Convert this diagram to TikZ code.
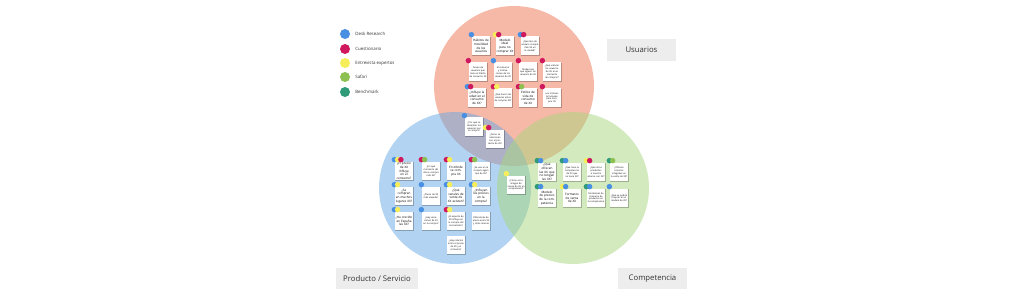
\documentclass[tikz,border=0pt]{standalone}
\usepackage{fontspec}
\setmainfont{Open Sans}
\usetikzlibrary{shadows,calc}
\definecolor{cblue}{HTML}{4A90E2}
\definecolor{cred}{HTML}{D0185E}
\definecolor{cyel}{HTML}{F5EE5A}
\definecolor{cgreen}{HTML}{8CC152}
\definecolor{cteal}{HTML}{2E9A78}
\definecolor{vred}{HTML}{EF7351}
\definecolor{vblue}{HTML}{67A9E5}
\definecolor{vgreen}{HTML}{A7D77D}
\definecolor{lblgray}{HTML}{EDEDED}
\newcommand{\stk}[5]{\node[sticky,#5] (#1) at (#2,#3) {#4};}
\newcommand{\dts}[2]{\foreach \cc [count=\ii from 0] in {#2} {\node[dot,fill=\cc] at ([xshift=\ii*0.065cm,yshift=0.03cm]#1.north west) {};}}
\begin{document}
\begin{tikzpicture}[x=0.02cm,y=-0.02cm,
  sticky/.style={fill=white, minimum width=0.37cm, minimum height=0.38cm, text width=0.34cm,
    inner sep=0.2pt, align=center, font=\fontsize{1.3}{1.6}\selectfont,
    drop shadow={shadow xshift=0.25pt, shadow yshift=-0.35pt, opacity=0.25, fill=black}},
  big/.style={font=\fontsize{1.75}{2.1}\selectfont},
  dot/.style={circle, minimum size=0.11cm, inner sep=0pt},
  ldot/.style={circle, minimum size=0.2cm, inner sep=0pt},
  ltext/.style={anchor=west, inner sep=0pt, font=\fontsize{2.5}{3}\selectfont, text=black!80},
  lab/.style={fill=lblgray, minimum height=0.44cm, inner sep=0pt, font=\fontsize{4.4}{5}\selectfont, text=black!80}]
\useasboundingbox (0,0) rectangle (1024,307);
\fill[white] (0,0) rectangle (1024,307);
% circles
\fill[vred, fill opacity=0.5] (514,86) circle[radius=1.6cm];
\fill[vblue, fill opacity=0.5] (455,188) circle[radius=1.52cm];
\fill[vgreen, fill opacity=0.5] (573,188) circle[radius=1.52cm];
% legend
\node[ldot,fill=cblue] (l1) at (345,34) {};
\node[ltext] (t1) at (355,34) {Desk Research};
\node[ldot,fill=cred] (l2) at (345,49) {};
\node[ltext] (t2) at (355,49) {Cuestionario};
\node[ldot,fill=cyel] (l3) at (345,63) {};
\node[ltext] (t3) at (355,63) {Entrevista expertos};
\node[ldot,fill=cgreen] (l4) at (345,77) {};
\node[ltext] (t4) at (355,77) {Safari};
\node[ldot,fill=cteal] (l5) at (345,92) {};
\node[ltext] (t5) at (355,92) {Benchmark};
% labels
\node[lab, minimum width=1.38cm] (usu) at (641.5,50) {Usuarios};
\node[lab, minimum width=1.64cm] (prod) at (377,278.5) {Producto / Servicio};
\node[lab, minimum width=1.38cm] (comp) at (652.5,278.5) {Competencia};
% Usuarios stickies
\stk{R1}{481}{46}{Hábitos de movilidad de los usuarios}{big}\dts{R1}{cblue}
\stk{R2}{505}{46}{Modelo ideal para no comprar XX}{big}\dts{R2}{cyel,cred}
\stk{R3}{530}{46}{¿Qué tipo de usuario compra más XX en la ciudad?}{}\dts{R3}{cblue,cred}
\stk{R4}{478}{72}{Grupo de usuarios que tiene el hábito de consumir XX}{}\dts{R4}{cred}
\stk{R5}{503}{72}{El consumo y motivaciones de los usuarios de XX}{}\dts{R5}{cblue}
\stk{R6}{528}{72}{Tendencias que siguen los usuarios de XX}{}\dts{R6}{cred}
\stk{R7}{552}{72}{¿Qué valoran los usuarios de XX en el momento de comprar?}{}\dts{R7}{cred}
\stk{R8}{477}{98}{¿Influye la edad en el consumo de XX?}{big}\dts{R8}{cblue,cred}
\stk{R9}{503}{98}{¿Qué hacen los usuarios antes de comprar XX?}{}\dts{R9}{cred,cyel}
\stk{R10}{528}{98}{Estilos de vida de consumo de XX}{big}\dts{R10}{cred,cgreen}
\stk{R11}{552}{98}{Los motivos principales para comprar XX}{}\dts{R11}{cred}
% overlap usuarios / producto
\stk{O1}{474}{127}{¿Por qué se decantan los usuarios por la compra?}{}\dts{O1}{cblue}
\stk{O2}{495}{139}{¿Cómo se relacionan con el producto de XX?}{}\dts{O2}{cyel,cred}
% Producto stickies
\stk{B1}{404}{171}{¿El precio de XX influye en el consumo?}{big}\dts{B1}{cblue,cyel,cred}
\stk{B2}{431}{171}{¿En qué momento del día se compra más XX?}{}\dts{B2}{cred,cgreen}
\stk{B3}{456}{171}{En dónde se compra XX}{big}\dts{B3}{cred,cyel}
\stk{B4}{481}{171}{¿Se usa en la compra algún tipo de XX?}{}\dts{B4}{cred,cgreen}
\stk{B5}{404}{196}{¿Se compran en muchos lugares XX?}{big}\dts{B5}{cblue,cyel}
\stk{B6}{431}{196}{¿Precio de XX más elevado?}{}\dts{B6}{cblue}
\stk{B7}{456}{196}{¿Qué canales de venta de XX existen?}{big}\dts{B7}{cblue,cyel}
\stk{B8}{481}{196}{¿Influyen los precios en la compra?}{big}\dts{B8}{cblue,cyel}
\stk{B9}{404}{221}{¿Ha crecido en España las XX?}{big}\dts{B9}{cblue,cyel}
\stk{B10}{431}{221}{¿Hay variaciones de XX en la compra?}{}\dts{B10}{cblue}
\stk{B11}{456}{221}{¿El aspecto de XX influye en la compra del consumidor?}{}\dts{B11}{cred,cyel}
\stk{B12}{481}{221}{Diferencias de precio entre XX y otras marcas}{}
\stk{B13}{456}{245}{¿Hay relación entre el precio de XX y el consumo?}{}
% overlap producto / competencia
\stk{G0}{516}{185}{¿Cómo es la imagen de marca de XX en comparación?}{}\dts{G0}{cyel}
% Competencia stickies
\stk{G1}{547}{172}{¿Qué ofrecen las XX que no tengan las XX?}{big}\dts{G1}{cteal,cblue}
\stk{G2}{572}{172}{¿Qué hace la competencia de XX que no tiene XX?}{}\dts{G2}{cteal,cblue}
\stk{G3}{596}{172}{¿Qué otros productos a nuestro alcance son XX?}{}\dts{G3}{cyel,cred}
\stk{G4}{619}{172}{¿Ofrecen servicios integrales en la venta de XX?}{}\dts{G4}{cteal,cgreen}
\stk{G5}{547}{198}{Modelo de precios de la competencia}{big}\dts{G5}{cteal,cblue}
\stk{G6}{572}{198}{Formatos de venta de XX}{big}\dts{G6}{cyel,cblue}
\stk{G7}{596}{198}{Tendencias de consumo de productos en la competencia}{}\dts{G7}{cteal,cblue}
\stk{G8}{619}{198}{¿Qué se podría mejorar en el modelo de XX?}{}\dts{G8}{cblue}
\end{tikzpicture}
\end{document}
